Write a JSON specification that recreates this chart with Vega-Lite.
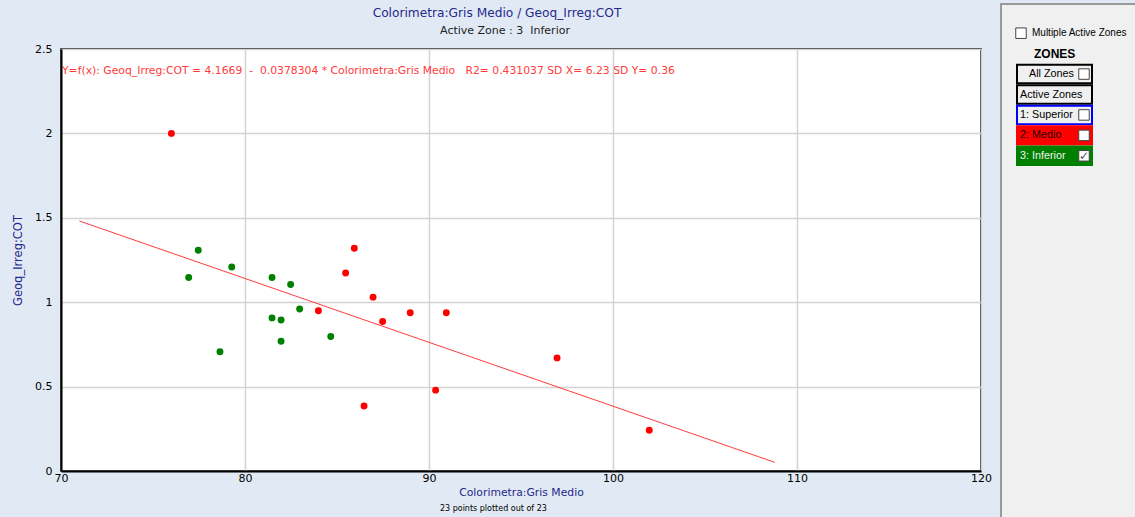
{
  "$schema": "https://vega.github.io/schema/vega-lite/v6.json",
  "background": "#e1eaf4",
  "padding": {"left": 11, "top": 3, "right": 0, "bottom": 0},
  "spacing": 7,
  "config": {"font": "DejaVu Sans", "view": {"stroke": null}},
  "hconcat": [
    {
      "vconcat": [
        {
          "width": 920,
          "height": 36,
          "view": {"stroke": null, "fill": null},
          "encoding": {
            "y": {"field": "line", "type": "nominal", "scale": {"domain": ["title", "subtitle"], "paddingInner": 0, "paddingOuter": 0}, "axis": null}
          },
          "layer": [
            {
              "data": {"values": [{"line": "title", "label": "Colorimetra:Gris Medio / Geoq_Irreg:COT"}]},
              "mark": {"type": "text", "align": "center", "baseline": "middle", "fontSize": 12.2, "color": "#26288c", "dx": -24},
              "encoding": {"text": {"field": "label"}}
            },
            {
              "data": {"values": [{"line": "subtitle", "label": "Active Zone : 3 \u00a0Inferior"}]},
              "mark": {"type": "text", "align": "center", "baseline": "middle", "fontSize": 11, "color": "#222222", "dx": -16},
              "encoding": {"text": {"field": "label"}}
            }
          ]
        },
        {
          "width": 920,
          "height": 422,
          "view": {"fill": "white", "stroke": "#000000", "strokeWidth": 1.5},
          "layer": [
            {
              "data": {
                "values": [
                  {"gris": 76.0, "cot": 2.0, "zone": "Medio"},
                  {"gris": 85.94, "cot": 1.32, "zone": "Medio"},
                  {"gris": 85.47, "cot": 1.173, "zone": "Medio"},
                  {"gris": 86.96, "cot": 1.03, "zone": "Medio"},
                  {"gris": 87.48, "cot": 0.886, "zone": "Medio"},
                  {"gris": 88.98, "cot": 0.937, "zone": "Medio"},
                  {"gris": 90.94, "cot": 0.937, "zone": "Medio"},
                  {"gris": 83.99, "cot": 0.949, "zone": "Medio"},
                  {"gris": 90.36, "cot": 0.479, "zone": "Medio"},
                  {"gris": 96.96, "cot": 0.67, "zone": "Medio"},
                  {"gris": 101.97, "cot": 0.241, "zone": "Medio"},
                  {"gris": 86.47, "cot": 0.385, "zone": "Medio"},
                  {"gris": 77.46, "cot": 1.308, "zone": "Inferior"},
                  {"gris": 76.94, "cot": 1.146, "zone": "Inferior"},
                  {"gris": 79.28, "cot": 1.209, "zone": "Inferior"},
                  {"gris": 81.47, "cot": 1.146, "zone": "Inferior"},
                  {"gris": 82.48, "cot": 1.105, "zone": "Inferior"},
                  {"gris": 82.97, "cot": 0.96, "zone": "Inferior"},
                  {"gris": 81.47, "cot": 0.907, "zone": "Inferior"},
                  {"gris": 81.96, "cot": 0.895, "zone": "Inferior"},
                  {"gris": 81.96, "cot": 0.769, "zone": "Inferior"},
                  {"gris": 78.64, "cot": 0.706, "zone": "Inferior"},
                  {"gris": 84.66, "cot": 0.797, "zone": "Inferior"}
                ]
              },
              "mark": {"type": "point", "filled": true, "size": 48, "opacity": 1},
              "encoding": {
                "x": {
                  "field": "gris",
                  "type": "quantitative",
                  "scale": {"domain": [70, 120], "nice": false, "zero": false},
                  "axis": {
                    "values": [70, 80, 90, 100, 110, 120],
                    "format": "~g",
                    "grid": true,
                    "gridColor": "#d3d3d3",
                    "gridWidth": 1.5,
                    "domainColor": "#000000",
                    "domainWidth": 2,
                    "ticks": false,
                    "labelPadding": 1,
                    "labelFontSize": 11,
                    "labelColor": "#000000",
                    "labelFlush": false,
                    "title": "Colorimetra:Gris Medio",
                    "titleColor": "#26288c",
                    "titleFontSize": 10.8,
                    "titleFontWeight": "normal",
                    "titlePadding": 3
                  }
                },
                "y": {
                  "field": "cot",
                  "type": "quantitative",
                  "scale": {"domain": [0, 2.5], "nice": false, "zero": false},
                  "axis": {
                    "values": [0, 0.5, 1, 1.5, 2, 2.5],
                    "format": "~g",
                    "grid": true,
                    "gridColor": "#d3d3d3",
                    "gridWidth": 1.5,
                    "domainColor": "#000000",
                    "domainWidth": 2,
                    "ticks": false,
                    "labelPadding": 9,
                    "labelFontSize": 11,
                    "labelColor": "#000000",
                    "title": "Geoq_Irreg:COT",
                    "titleColor": "#26288c",
                    "titleFontSize": 11.5,
                    "titleFontWeight": "normal",
                    "titlePadding": 11
                  }
                },
                "color": {
                  "field": "zone",
                  "type": "nominal",
                  "scale": {"domain": ["Medio", "Inferior"], "range": ["#ff0000", "#008000"]},
                  "legend": null
                }
              }
            },
            {
              "data": {"values": [{"gris": 71.0, "cot": 1.481}, {"gris": 108.8, "cot": 0.051}]},
              "mark": {"type": "line", "color": "#ff3b3b", "strokeWidth": 1},
              "encoding": {
                "x": {"field": "gris", "type": "quantitative"},
                "y": {"field": "cot", "type": "quantitative"}
              }
            },
            {
              "data": {"values": [{"label": "Y=f(x): Geoq_Irreg:COT = 4.1669 \u00a0-\u00a0 0.0378304 * Colorimetra:Gris Medio \u00a0 R2= 0.431037 SD X= 6.23 SD Y= 0.36"}]},
              "mark": {"type": "text", "align": "left", "baseline": "middle", "color": "#ff3b3b", "fontSize": 10.8, "dx": 1},
              "encoding": {
                "x": {"datum": 70},
                "y": {"datum": 2.367},
                "text": {"field": "label"}
              }
            },
            {
              "data": {"values": [{"label": "23 points plotted out of 23"}]},
              "mark": {"type": "text", "align": "center", "baseline": "middle", "color": "#000000", "fontSize": 8},
              "encoding": {
                "x": {"datum": 93.5},
                "y": {"datum": -0.225},
                "text": {"field": "label"}
              }
            }
          ]
        }
      ],
      "spacing": 2
    },
    {
      "width": 135,
      "height": 514,
      "view": {"fill": "#f0f0f0", "stroke": "#9a9a9a", "strokeWidth": 2},
      "data": {
        "values": [
          {"row": "Multiple Active Zones", "kind": "check"},
          {"row": "ZONES", "kind": "header"},
          {"row": "All Zones", "kind": "button", "box": "empty"},
          {"row": "Active Zones", "kind": "button", "box": "none"},
          {"row": "1: Superior", "kind": "button", "box": "empty"},
          {"row": "2: Medio", "kind": "button", "box": "empty"},
          {"row": "3: Inferior", "kind": "button", "box": "checked"}
        ]
      },
      "encoding": {
        "y": {
          "field": "row",
          "type": "nominal",
          "scale": {
            "domain": ["Multiple Active Zones", "ZONES", "All Zones", "Active Zones", "1: Superior", "2: Medio", "3: Inferior"],
            "range": [20, 161],
            "paddingInner": 0.1,
            "paddingOuter": 0
          },
          "axis": null
        }
      },
      "layer": [
        {
          "transform": [{"filter": "datum.kind == 'button'"}],
          "mark": {"type": "rect", "strokeWidth": 2},
          "encoding": {
            "x": {"datum": 16, "type": "quantitative", "scale": {"domain": [0, 135], "nice": false, "zero": false}, "axis": null},
            "x2": {"datum": 91},
            "fill": {
              "field": "row",
              "type": "nominal",
              "scale": {"domain": ["All Zones", "Active Zones", "1: Superior", "2: Medio", "3: Inferior"], "range": ["#f0f0f0", "#f0f0f0", "#f0f0f0", "#ff0000", "#008000"]},
              "legend": null
            },
            "stroke": {
              "field": "row",
              "type": "nominal",
              "scale": {"domain": ["All Zones", "Active Zones", "1: Superior", "2: Medio", "3: Inferior"], "range": ["#000000", "#000000", "#0000ff", "#ff0000", "#008000"]},
              "legend": null
            }
          }
        },
        {
          "transform": [{"filter": "datum.kind == 'button' && datum.row != 'All Zones'"}],
          "mark": {"type": "text", "align": "left", "baseline": "middle", "font": "Liberation Sans", "fontSize": 10.8},
          "encoding": {
            "x": {"datum": 19},
            "text": {"field": "row"},
            "color": {
              "field": "row",
              "type": "nominal",
              "scale": {"domain": ["All Zones", "Active Zones", "1: Superior", "2: Medio", "3: Inferior"], "range": ["#000000", "#000000", "#000000", "#1a0000", "#f2f2f2"]},
              "legend": null
            }
          }
        },
        {
          "transform": [{"filter": "datum.row == 'All Zones'"}],
          "mark": {"type": "text", "align": "right", "baseline": "middle", "font": "Liberation Sans", "fontSize": 10.8, "color": "#000000"},
          "encoding": {"x": {"datum": 73}, "text": {"field": "row"}}
        },
        {
          "transform": [{"filter": "datum.kind == 'check'"}],
          "mark": {"type": "text", "align": "left", "baseline": "middle", "font": "Liberation Sans", "fontSize": 10, "color": "#000000"},
          "encoding": {"x": {"datum": 31}, "text": {"field": "row"}}
        },
        {
          "transform": [{"filter": "datum.kind == 'header'"}],
          "mark": {"type": "text", "align": "left", "baseline": "middle", "font": "Liberation Sans", "fontSize": 12, "fontWeight": "bold", "color": "#000000"},
          "encoding": {"x": {"datum": 33}, "text": {"field": "row"}}
        },
        {
          "transform": [{"filter": "datum.box == 'empty' || datum.box == 'checked'"}],
          "mark": {"type": "point", "shape": "square", "size": 110, "filled": true, "color": "#ffffff", "stroke": "#444444", "strokeWidth": 1, "opacity": 1},
          "encoding": {"x": {"datum": 83}}
        },
        {
          "transform": [{"filter": "datum.kind == 'check'"}],
          "mark": {"type": "point", "shape": "square", "size": 110, "filled": true, "color": "#ffffff", "stroke": "#444444", "strokeWidth": 1, "opacity": 1},
          "encoding": {"x": {"datum": 20}}
        },
        {
          "transform": [{"filter": "datum.box == 'checked'"}],
          "mark": {"type": "text", "align": "center", "baseline": "middle", "font": "DejaVu Sans", "fontSize": 12, "color": "#555555"},
          "encoding": {"x": {"datum": 83}, "text": {"value": "✓"}}
        }
      ],
      "resolve": {"scale": {"fill": "independent", "stroke": "independent", "color": "independent"}}
    }
  ]
}
